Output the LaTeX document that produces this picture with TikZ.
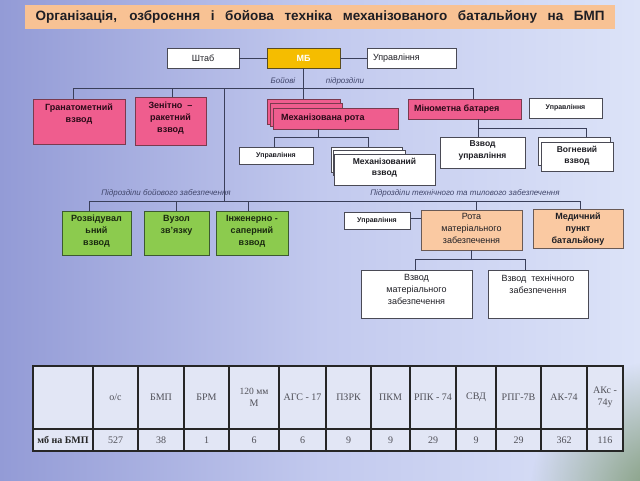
\documentclass[tikz,border=0pt]{standalone}
\usepackage{fontspec}
\setmainfont{Liberation Serif}
\setsansfont{Liberation Sans}
\usetikzlibrary{fadings}
\tikzfading[name=cornerfade, inner color=transparent!0, outer color=transparent!100]
\definecolor{bgL}{HTML}{939BD6}
\definecolor{bgM}{HTML}{C2C9EE}
\definecolor{bgR}{HTML}{DCE3F8}
\definecolor{cornerc}{HTML}{7A9672}
\definecolor{titlec}{HTML}{F8C294}
\definecolor{goldc}{HTML}{F5BD00}
\definecolor{goldline}{HTML}{5A4C20}
\definecolor{pinkc}{HTML}{EF5D8E}
\definecolor{pinkline}{HTML}{7A3A4E}
\definecolor{ptxt}{HTML}{2A0A18}
\definecolor{greenc}{HTML}{8CCB4E}
\definecolor{greenline}{HTML}{3C5A30}
\definecolor{gtxt}{HTML}{1A2A10}
\definecolor{peachc}{HTML}{FAC9A2}
\definecolor{peachline}{HTML}{6A5A55}
\definecolor{wline}{HTML}{4A4A55}
\definecolor{txt}{HTML}{1E1E24}
\definecolor{connc}{HTML}{3A3F5A}
\definecolor{labc}{HTML}{40456A}
\definecolor{tabfill}{HTML}{E2E6F5}
\definecolor{tabtxt}{HTML}{505058}
\newcommand\boxT[4]{\parbox[c][#2pt][t]{#1pt}{\centering\vspace*{#3pt}#4\par}}
\newcommand\boxC[3]{\parbox[c][#2pt][c]{#1pt}{\centering #3\par}}
\newcommand\boxL[4]{\parbox[c][#2pt][c]{#1pt}{\hspace*{#3pt}#4\par}}
\tikzset{
  box/.style={rectangle, inner sep=0pt, outer sep=0pt, anchor=north west, line width=0.8pt,
    font=\sffamily\bfseries\fontsize{9}{12}\selectfont},
  wbox/.style={box, fill=white, draw=wline, text=txt},
  pbox/.style={box, fill=pinkc, draw=pinkline, text=ptxt},
  gbox/.style={box, fill=greenc, draw=greenline, text=gtxt},
  obox/.style={box, fill=peachc, draw=peachline, text=txt},
  small/.style={font=\sffamily\bfseries\fontsize{7}{8}\selectfont},
  conn/.style={draw=connc, line width=0.9pt},
  lab/.style={font=\sffamily\itshape\fontsize{8}{9}\selectfont, text=labc, inner sep=0pt},
  cell/.style={font=\fontsize{10}{12}\selectfont, text=tabtxt, align=center, inner sep=0pt},
}
\begin{document}
\begin{tikzpicture}[x=1pt,y=-1pt]
\useasboundingbox (0,0) rectangle (640,480);
% background
\shade[left color=bgL, right color=bgR, middle color=bgM] (0,0) rectangle (640,480);
\begin{scope}
\clip (0,0) rectangle (640,480);
\fill[cornerc, path fading=cornerfade] (665,495) circle (135);
\end{scope}
% title
\node[fill=titlec, minimum width=590pt, minimum height=24pt, inner sep=0pt,
  font=\sffamily\bfseries\fontsize{13.5}{16}\selectfont, text=txt] (title) at (320,16.5)
  {\makebox[569pt][s]{Організація, озброєння і бойова техніка механізованого батальйону на БМП}};
% top row
\node[wbox, font=\sffamily\fontsize{9}{12}\selectfont] (shtab) at (167,48) {\boxC{72}{20}{Штаб}};
\node[box, fill=goldc, draw=goldline, text=white] (mb) at (267,48) {\boxC{73}{20}{МБ}};
\node[wbox, font=\sffamily\fontsize{9}{12}\selectfont] (uprT) at (367,48) {\boxL{89}{20}{6}{Управління}};
\draw[conn] (mb.west) -- (shtab.east);
\draw[conn] (mb.east) -- (uprT.west);
\node[lab] (lb1) at (283,81) {Бойові};
\node[lab] (lb2) at (345,81) {підрозділи};
% combat units
\coordinate (busL) at (73,88);
\coordinate (busR) at (473,88);
\coordinate (j1) at (224,88);
\coordinate (j2) at (224,201);
\node[pbox] (gren) at (33,99) {\boxT{92}{45}{5}{Гранатометний\\взвод}};
\node[pbox] (zrv) at (135,97) {\boxT{71}{48}{5}{Зенітно~ –\\ракетний\\взвод}};
\node[pbox, minimum width=73pt, minimum height=25pt] (mechb1) at (267,99) {};
\node[pbox, minimum width=72pt, minimum height=23pt] (mechb2) at (270.5,103) {};
\node[pbox] (mech) at (273,108) {\boxL{125}{21}{8}{Механізована рота}};
\node[pbox] (mino) at (408,99) {\boxL{113}{20}{6}{Мінометна батарея}};
\node[wbox, small] (uprM) at (529,98) {\boxC{73}{20}{Управління}};
\draw[conn] (busL) -- (busR);
\draw[conn] (busL) -- (busL |- gren.north);
\draw[conn] ([xshift=2pt]zrv.north) -- ([xshift=2pt]zrv.north |- busL);
\draw[conn] (mb.south) -- (mechb1.north);
\draw[conn] (busR) -- (busR |- mino.north);
\draw[conn] (j1) -- (j2);
% under mechanised company
\node[wbox, small] (upr2) at (239,147) {\boxC{74}{17}{Управління}};
\node[wbox, minimum width=71pt, minimum height=25pt] (mplb1) at (331,147) {};
\node[wbox, minimum width=72pt, minimum height=25pt] (mplb2) at (333,150) {};
\node[wbox, font=\sffamily\bfseries\fontsize{8.5}{11.5}\selectfont] (mpl) at (334,154) {\boxT{101}{31}{4}{Механізований\\взвод}};
\draw[conn] ([xshift=-17pt]mech.south) -- ++(0,8);
\draw[conn] ([xshift=-2pt]upr2.north) -- ++(0,-10) -| ([xshift=1.5pt]mplb1.north);
% under mortar battery
\node[wbox, font=\sffamily\bfseries\fontsize{8.5}{11.5}\selectfont] (vzupr) at (440,137) {\boxT{85}{31}{4}{Взвод\\управління}};
\node[wbox, minimum width=72pt, minimum height=28pt] (vogb) at (538,137) {};
\node[wbox, font=\sffamily\bfseries\fontsize{8.5}{11.5}\selectfont] (vog) at (541,142) {\boxT{72}{29}{4}{Вогневий\\взвод}};
\draw[conn] ([xshift=-4.5pt]vzupr.north |- mino.south) -- ++(0,9);
\draw[conn] ([xshift=-4.5pt]vzupr.north) -- ++(0,-9) -| ([xshift=12pt]vogb.north);
% support labels
\node[lab] (lb3) at (166,193) {Підрозділи бойового забезпечення};
\node[lab] (lb4) at (465,193) {Підрозділи технічного та тилового забезпечення};
% combat support
\coordinate (lbL) at (89,201);
\coordinate (lbR) at (580,201);
\draw[conn] (lbL) -- (lbR);
\node[gbox] (rozv) at (62,211) {\boxT{69}{44}{4}{Розвідувал\\ьний\\взвод}};
\node[gbox] (vuz) at (144,211) {\boxT{65}{44}{4}{Вузол\\зв’язку}};
\node[gbox] (inzh) at (216,211) {\boxT{72}{44}{4}{Інженерно -\\саперний\\взвод}};
\draw[conn] (lbL) -- (lbL |- rozv.north);
\draw[conn] (vuz.north) -- (vuz.north |- lbL);
\draw[conn] ([xshift=-4pt]inzh.north) -- ([xshift=-4pt]inzh.north |- lbL);
% logistic support
\node[wbox, small] (uprL) at (344,212) {\boxC{66}{17}{Управління}};
\node[obox, font=\sffamily\fontsize{9}{12}\selectfont] (rota) at (421,210) {\boxT{101}{40}{3.5}{Рота\\матеріального\\забезпечення}};
\node[obox] (med) at (533,209) {\boxT{90}{39}{4}{Медичний\\пункт\\батальйону}};
\draw[conn] ([xshift=5pt]rota.north) -- ([xshift=5pt]rota.north |- lbL);
\draw[conn] (lbR) -- (lbR |- med.north);
\draw[conn] ([yshift=2pt]uprL.east) -- ([yshift=2pt]uprL.east -| rota.west);
\node[wbox, font=\sffamily\fontsize{9}{12}\selectfont] (vmat) at (361,270) {\boxT{111}{48}{4.5}{Взвод\\матеріального\\забезпечення}};
\node[wbox, font=\sffamily\fontsize{9}{12}\selectfont] (vteh) at (488,270) {\boxT{100}{48}{4.5}{Взвод~ технічного\\забезпечення}};
\draw[conn] (rota.south) -- ++(0,9);
\draw[conn] ([xshift=-1.5pt]vmat.north) -- ++(0,-11) -| ([xshift=-13pt]vteh.north);
% table
\fill[tabfill] (33,366) rectangle (623,451);
\draw[line width=1.1pt, black!85] (33,366) rectangle (623,451);
\draw[line width=1.1pt, black!85] (33,429) -- (623,429);
\foreach \xx in {93,138,184,229,279,326,371,410,456,496,541,587}
  \draw[line width=1.1pt, black!85] (\xx,366) -- (\xx,451);
\node[cell, font=\bfseries\fontsize{10}{12}\selectfont, text=black!85] (d0) at (63,440) {мб на БМП};
\foreach \a/\b/\h/\d [count=\i] in {93/138/{о/с}/527, 138/184/БМП/38, 184/229/БРМ/1,
  229/279/{\fontsize{9.5}{13}\selectfont 120 мм\\М}/6, 279/326/АГС - 17/6, 326/371/ПЗРК/9,
  371/410/ПКМ/9, 410/456/РПК - 74/29, 456/496/СВД/9, 496/541/РПГ-7В/29,
  541/587/АК-74/362, 587/623/{АКс -\\74у}/116}
{
  \node[cell] (h\i) at ({(\a+\b)/2},397.5) {\h};
  \node[cell] (d\i) at ({(\a+\b)/2},440) {\d};
}
\end{tikzpicture}
\end{document}
